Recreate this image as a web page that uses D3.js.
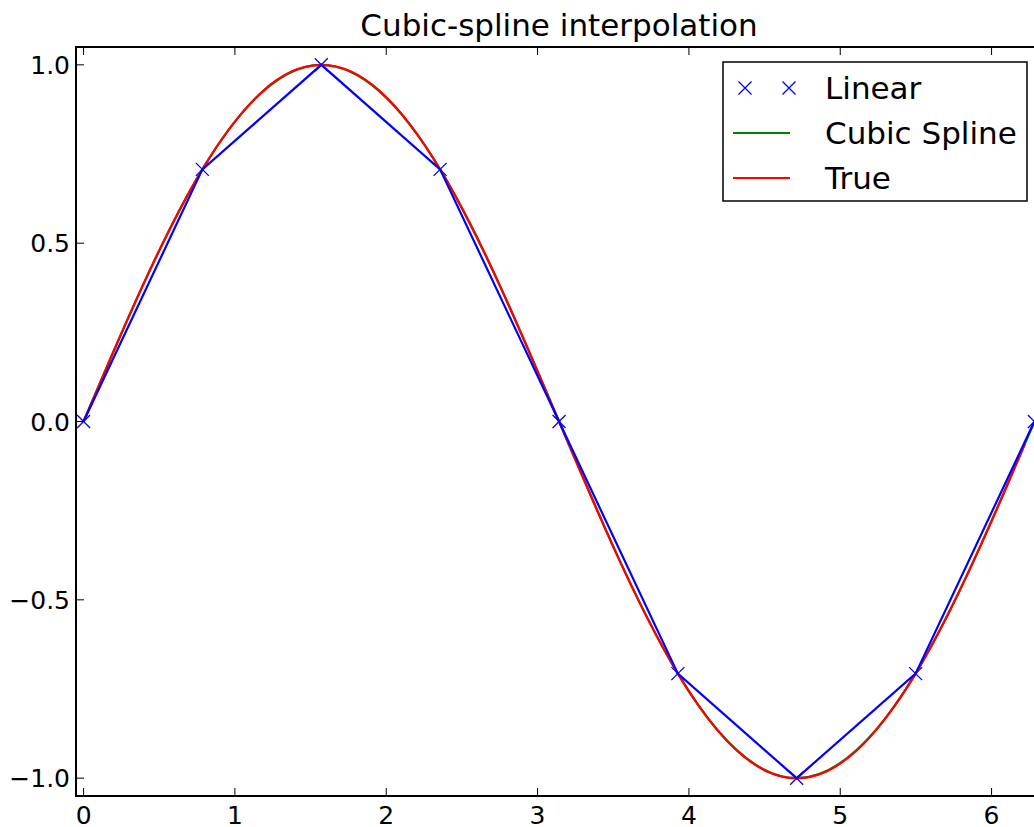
<!DOCTYPE html>
<html lang="en">
    <head>
        <meta charset="utf-8">
        <title>Cubic-spline interpolation</title>
        <script src="https://d3js.org/d3.v7.min.js"></script>
        <style>
            body { margin: 0; background: #fff; }
            text { font-family: "DejaVu Sans", sans-serif; fill: #000; }
        </style>
    </head>
    <body>
        <div id="dataviz"></div>
        <script>
            // sample points (x, sin x) used for linear + spline
            var knotX = [0, 0.785, 1.571, 2.356, 3.142, 3.927, 4.712, 5.498, 6.283];
            var knotY = [0, 0.707, 1.0, 0.707, 0, -0.707, -1.0, -0.707, 0];

            // true curve
            var trueX = [0, 0.196, 0.393, 0.589, 0.785, 0.982, 1.178, 1.374, 1.571, 1.767, 1.963,
                         2.160, 2.356, 2.553, 2.749, 2.945, 3.142, 3.338, 3.534, 3.731, 3.927, 4.123,
                         4.320, 4.516, 4.712, 4.909, 5.105, 5.301, 5.498, 5.694, 5.890, 6.087, 6.220];
            var trueY = [0, 0.195, 0.383, 0.556, 0.707, 0.831, 0.924, 0.981, 1.0, 0.981, 0.924,
                         0.831, 0.707, 0.556, 0.383, 0.195, 0, -0.195, -0.383, -0.556, -0.707, -0.831,
                         -0.924, -0.981, -1.0, -0.981, -0.924, -0.831, -0.707, -0.556, -0.383, -0.195, -0.063];

            var xTicks = [0, 1, 2, 3, 4, 5, 6];
            var yTicks = [-1.0, -0.5, 0.0, 0.5, 1.0];
            var legendLabels = ["Linear", "Cubic Spline", "True"];

            var margin = {top: 47, left: 76},
                width = 966,
                height = 749;

            var svg = d3.select("#dataviz")
                        .append("svg")
                        .attr("width", 1034)
                        .attr("height", 827);

            var g = svg.append("g")
                        .attr("transform", "translate(" + margin.left + "," + margin.top + ")");

            var x = d3.scaleLinear().domain([-0.05, 2 * Math.PI + 0.05]).range([0, width]);
            var y = d3.scaleLinear().domain([-1.05, 1.05]).range([height, 0]);

            g.append("clipPath").attr("id", "clip")
                .append("rect").attr("width", width).attr("height", height);

            var knots = knotX.map(function(v, i) { return {x: v, y: knotY[i]}; });
            var truth = trueX.map(function(v, i) { return {x: v, y: trueY[i]}; });

            var plot = g.append("g").attr("clip-path", "url(#clip)");

            function xMark(sel, size) {
                sel.attr("d", "M" + (-size) + "," + (-size) + "L" + size + "," + size +
                              "M" + (-size) + "," + size + "L" + size + "," + (-size))
                   .attr("stroke", "blue").attr("stroke-width", 1.3).attr("fill", "none");
            }

            // markers
            plot.selectAll(".mk").data(knots).enter().append("path")
                .attr("class", "mk")
                .attr("transform", function(d) { return "translate(" + x(d.x) + "," + y(d.y) + ")"; })
                .call(xMark, 6.5);

            var lineNatural = d3.line().x(function(d) { return x(d.x); }).y(function(d) { return y(d.y); })
                                .curve(d3.curveNatural);

            // cubic spline
            plot.append("path").datum(knots)
                .attr("d", lineNatural)
                .attr("fill", "none").attr("stroke", "green").attr("stroke-width", 2.2);

            // true
            plot.append("path").datum(truth)
                .attr("d", lineNatural)
                .attr("fill", "none").attr("stroke", "red").attr("stroke-width", 2.2);

            // linear
            plot.append("path").datum(knots)
                .attr("d", d3.line().x(function(d) { return x(d.x); }).y(function(d) { return y(d.y); }))
                .attr("fill", "none").attr("stroke", "blue").attr("stroke-width", 2.2);

            // ticks (inward, all four sides)
            var tickLen = 8;
            xTicks.forEach(function(t) {
                g.append("line").attr("x1", x(t)).attr("x2", x(t)).attr("y1", height).attr("y2", height - tickLen)
                    .attr("stroke", "#000").attr("stroke-width", 1);
                g.append("line").attr("x1", x(t)).attr("x2", x(t)).attr("y1", 0).attr("y2", tickLen)
                    .attr("stroke", "#000").attr("stroke-width", 1);
                g.append("text").attr("x", x(t)).attr("y", height + 28)
                    .attr("text-anchor", "middle").style("font-size", "25px")
                    .text(d3.format("d")(t));
            });
            yTicks.forEach(function(t) {
                g.append("line").attr("x1", 0).attr("x2", tickLen).attr("y1", y(t)).attr("y2", y(t))
                    .attr("stroke", "#000").attr("stroke-width", 1);
                g.append("line").attr("x1", width).attr("x2", width - tickLen).attr("y1", y(t)).attr("y2", y(t))
                    .attr("stroke", "#000").attr("stroke-width", 1);
                g.append("text").attr("x", -6).attr("y", y(t) + 9)
                    .attr("text-anchor", "end").style("font-size", "25px")
                    .text(d3.format(".1f")(t).replace("-", "\u2212"));
            });

            // frame
            g.append("rect").attr("width", width).attr("height", height)
                .attr("fill", "none").attr("stroke", "#000").attr("stroke-width", 2);

            // title
            g.append("text").attr("x", width / 2).attr("y", -11)
                .attr("text-anchor", "middle").style("font-size", "31px")
                .text("Cubic-spline interpolation");

            // legend
            var leg = svg.append("g").attr("transform", "translate(723,62)");
            leg.append("rect").attr("width", 304).attr("height", 139)
                .attr("fill", "#fff").attr("stroke", "#000").attr("stroke-width", 1.5);
            var rowY = [26, 71, 116];
            legendLabels.forEach(function(lbl, i) {
                if (i === 0) {
                    [22, 66].forEach(function(mx) {
                        leg.append("path").attr("transform", "translate(" + mx + "," + rowY[i] + ")").call(xMark, 6.5);
                    });
                } else {
                    leg.append("line").attr("x1", 10).attr("x2", 67).attr("y1", rowY[i]).attr("y2", rowY[i])
                        .attr("stroke", i === 1 ? "green" : "red").attr("stroke-width", 2.2);
                }
                leg.append("text").attr("x", 102).attr("y", rowY[i] + 11)
                    .style("font-size", "31px").text(lbl);
            });
        </script>
    </body>
</html>
